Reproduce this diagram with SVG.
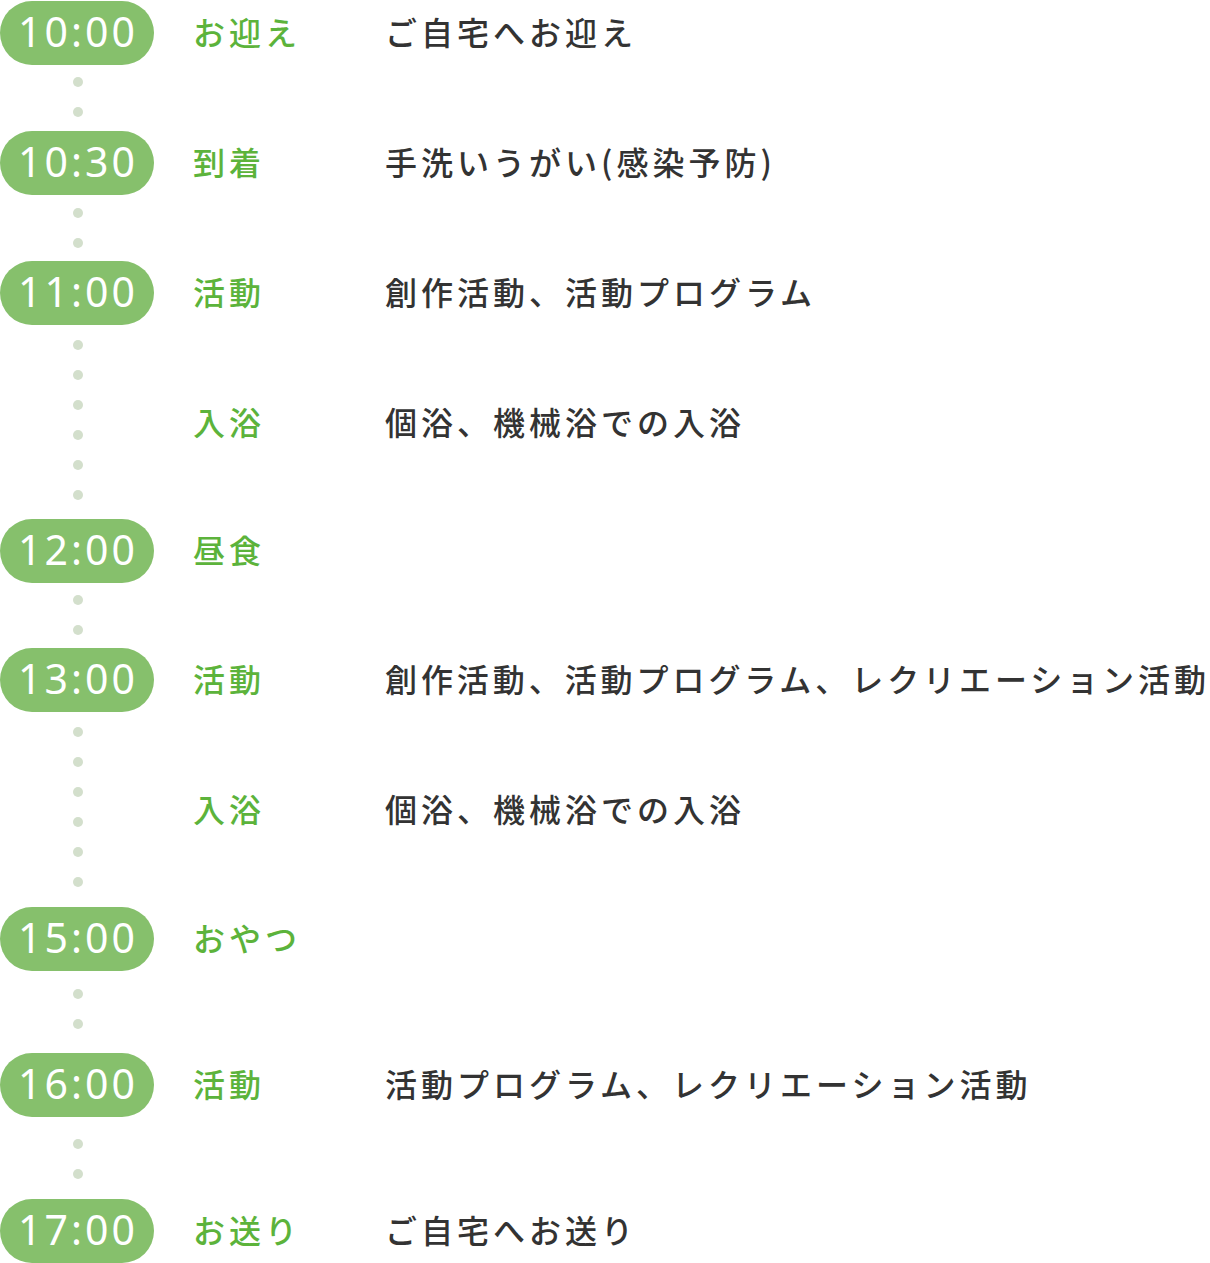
<svg xmlns="http://www.w3.org/2000/svg" width="1210" height="1263" viewBox="0 0 1210 1263">
<style>
.p{fill:#86c06c}
.t{fill:#fff;font-family:"Noto Sans","Noto Sans CJK JP",sans-serif;font-size:41px;text-anchor:middle;dominant-baseline:central;letter-spacing:3px}
.l{fill:#5cb33b;font-family:"Noto Sans CJK JP",sans-serif;font-size:32px;font-weight:500;dominant-baseline:central;letter-spacing:4px}
.d{fill:#333;font-family:"Noto Sans CJK JP",sans-serif;font-size:32px;font-weight:500;dominant-baseline:central;letter-spacing:4px}
.c{fill:#d3dfcc}
</style>
<rect width="1210" height="1263" fill="#fff"/>
<g id="connectors">
<circle class="c" cx="78" cy="82" r="5"/><circle class="c" cx="78" cy="112" r="5"/>
<circle class="c" cx="78" cy="213" r="5"/><circle class="c" cx="78" cy="243" r="5"/>
<circle class="c" cx="78" cy="345" r="5"/><circle class="c" cx="78" cy="375" r="5"/><circle class="c" cx="78" cy="405" r="5"/><circle class="c" cx="78" cy="435" r="5"/><circle class="c" cx="78" cy="465" r="5"/><circle class="c" cx="78" cy="495" r="5"/>
<circle class="c" cx="78" cy="600" r="5"/><circle class="c" cx="78" cy="630" r="5"/>
<circle class="c" cx="78" cy="732" r="5"/><circle class="c" cx="78" cy="762" r="5"/><circle class="c" cx="78" cy="792" r="5"/><circle class="c" cx="78" cy="822" r="5"/><circle class="c" cx="78" cy="852" r="5"/><circle class="c" cx="78" cy="882" r="5"/>
<circle class="c" cx="78" cy="994" r="5"/><circle class="c" cx="78" cy="1024" r="5"/>
<circle class="c" cx="78" cy="1144" r="5"/><circle class="c" cx="78" cy="1174" r="5"/>
</g>
<g id="n1"><rect class="p" x="0" y="1" width="154" height="64" rx="32"/><text class="t" x="78" y="31">10:00</text><text class="l" x="193" y="31">お迎え</text><text class="d" x="385" y="31">ご自宅へお迎え</text></g>
<g id="n2"><rect class="p" x="0" y="131" width="154" height="64" rx="32"/><text class="t" x="78" y="161">10:30</text><text class="l" x="193" y="161">到着</text><text class="d" x="385" y="161">手洗いうがい(感染予防)</text></g>
<g id="n3"><rect class="p" x="0" y="261" width="154" height="64" rx="32"/><text class="t" x="78" y="291">11:00</text><text class="l" x="193" y="291">活動</text><text class="d" x="385" y="291">創作活動、活動プログラム</text></g>
<g id="n4"><text class="l" x="193" y="421">入浴</text><text class="d" x="385" y="421">個浴、機械浴での入浴</text></g>
<g id="n5"><rect class="p" x="0" y="519" width="154" height="64" rx="32"/><text class="t" x="78" y="549">12:00</text><text class="l" x="193" y="549">昼食</text></g>
<g id="n6"><rect class="p" x="0" y="648" width="154" height="64" rx="32"/><text class="t" x="78" y="678">13:00</text><text class="l" x="193" y="678">活動</text><text class="d" x="385" y="678" textLength="825">創作活動、活動プログラム、レクリエーション活動</text></g>
<g id="n7"><text class="l" x="193" y="808">入浴</text><text class="d" x="385" y="808">個浴、機械浴での入浴</text></g>
<g id="n8"><rect class="p" x="0" y="907" width="154" height="64" rx="32"/><text class="t" x="78" y="937">15:00</text><text class="l" x="193" y="937">おやつ</text></g>
<g id="n9"><rect class="p" x="0" y="1053" width="154" height="64" rx="32"/><text class="t" x="78" y="1083">16:00</text><text class="l" x="193" y="1083">活動</text><text class="d" x="385" y="1083">活動プログラム、レクリエーション活動</text></g>
<g id="n10"><rect class="p" x="0" y="1199" width="154" height="64" rx="32"/><text class="t" x="78" y="1229">17:00</text><text class="l" x="193" y="1229">お送り</text><text class="d" x="385" y="1229">ご自宅へお送り</text></g>
</svg>
